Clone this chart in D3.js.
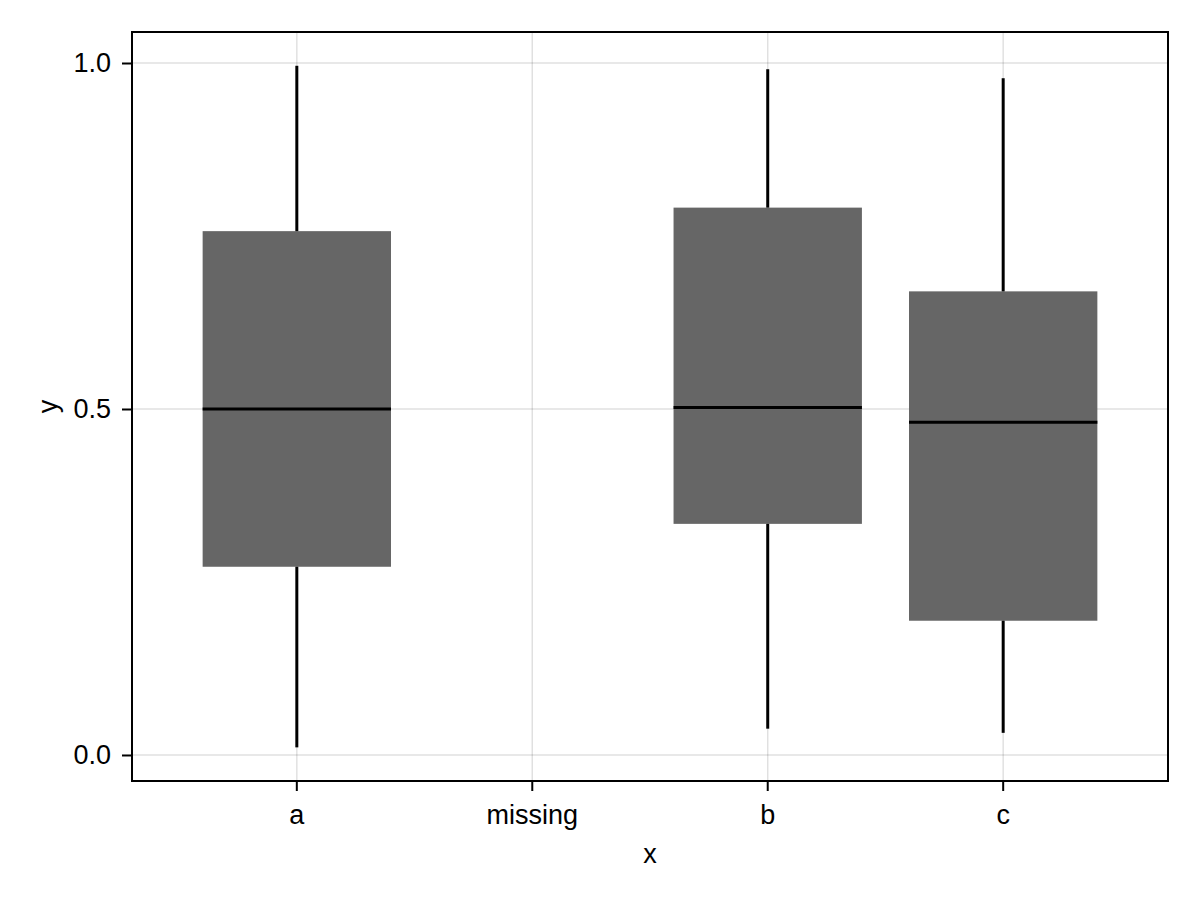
<!DOCTYPE html>
<html>
<head>
<meta charset="utf-8">
<script src="https://cdn.jsdelivr.net/npm/d3@7"></script>
<style>
  body { margin: 0; background: #fff; }
  svg { display: block; }
</style>
</head>
<body>
<svg id="chart"></svg>
<script>
// x axis categories ("missing" has no box)
var categories = ["a", "missing", "b", "c"];
var boxCats = ["a", "b", "c"];
var lows    = [0.011, 0.038, 0.032];
var q1s     = [0.272, 0.334, 0.194];
var medians = [0.500, 0.502, 0.481];
var q3s     = [0.757, 0.791, 0.670];
var highs   = [0.996, 0.991, 0.978];
var yTicks  = [0, 0.5, 1.0];

var width = 1200, height = 900;
var plotLeft = 132, plotRight = 1168, plotTop = 32, plotBottom = 781;
var font = "'Liberation Sans', Arial, sans-serif";
var fontSize = "27px";

var svg = d3.select("#chart")
    .attr("width", width)
    .attr("height", height);

var x = d3.scaleBand()
    .domain(categories)
    .range([plotLeft, plotRight])
    .paddingInner(0.2)
    .paddingOuter(0.3);

var y = d3.scaleLinear()
    .domain([-0.0376, 1.0448])
    .range([plotBottom, plotTop]);

var boxes = boxCats.map(function(c, i) {
    return { cat: c, low: lows[i], q1: q1s[i], med: medians[i], q3: q3s[i], high: highs[i] };
});

function cx(d) { return x(d) + x.bandwidth() / 2; }

// grid
var grid = svg.append("g");
grid.selectAll("line.vg")
    .data(categories)
    .enter().append("line")
    .attr("x1", cx)
    .attr("x2", cx)
    .attr("y1", plotTop)
    .attr("y2", plotBottom)
    .attr("stroke", "rgba(0,0,0,0.12)")
    .attr("stroke-width", 1.5);
grid.selectAll("line.hg")
    .data(yTicks)
    .enter().append("line")
    .attr("x1", plotLeft)
    .attr("x2", plotRight)
    .attr("y1", function(d) { return y(d); })
    .attr("y2", function(d) { return y(d); })
    .attr("stroke", "rgba(0,0,0,0.12)")
    .attr("stroke-width", 1.5);

// boxes
var g = svg.append("g");
g.selectAll("rect")
    .data(boxes)
    .enter().append("rect")
    .attr("x", function(d) { return x(d.cat); })
    .attr("width", x.bandwidth())
    .attr("y", function(d) { return y(d.q3); })
    .attr("height", function(d) { return y(d.q1) - y(d.q3); })
    .attr("fill", "#666666");

// whiskers
g.selectAll("line.wu")
    .data(boxes)
    .enter().append("line")
    .attr("x1", function(d) { return cx(d.cat); })
    .attr("x2", function(d) { return cx(d.cat); })
    .attr("y1", function(d) { return y(d.q3); })
    .attr("y2", function(d) { return y(d.high); })
    .attr("stroke", "#000")
    .attr("stroke-width", 3);
g.selectAll("line.wl")
    .data(boxes)
    .enter().append("line")
    .attr("x1", function(d) { return cx(d.cat); })
    .attr("x2", function(d) { return cx(d.cat); })
    .attr("y1", function(d) { return y(d.q1); })
    .attr("y2", function(d) { return y(d.low); })
    .attr("stroke", "#000")
    .attr("stroke-width", 3);

// medians
g.selectAll("line.med")
    .data(boxes)
    .enter().append("line")
    .attr("x1", function(d) { return x(d.cat); })
    .attr("x2", function(d) { return x(d.cat) + x.bandwidth(); })
    .attr("y1", function(d) { return y(d.med); })
    .attr("y2", function(d) { return y(d.med); })
    .attr("stroke", "#000")
    .attr("stroke-width", 3);

// axes
var xAxis = svg.append("g")
    .attr("transform", "translate(0," + plotBottom + ")")
    .call(d3.axisBottom(x).tickSize(10).tickPadding(14));
var yAxis = svg.append("g")
    .attr("transform", "translate(" + plotLeft + ",0)")
    .call(d3.axisLeft(y).tickValues(yTicks).tickFormat(d3.format(".1f")).tickSize(10).tickPadding(11));

[xAxis, yAxis].forEach(function(a) {
    a.select(".domain").remove();
    a.selectAll(".tick line").attr("stroke", "#000").attr("stroke-width", 2);
    a.selectAll(".tick text")
        .attr("fill", "#000")
        .style("font-family", font)
        .style("font-size", fontSize);
});

// frame
svg.append("rect")
    .attr("x", plotLeft)
    .attr("y", plotTop)
    .attr("width", plotRight - plotLeft)
    .attr("height", plotBottom - plotTop)
    .attr("fill", "none")
    .attr("stroke", "#000")
    .attr("stroke-width", 2);

// axis labels
svg.append("text")
    .attr("x", (plotLeft + plotRight) / 2)
    .attr("y", 863)
    .attr("text-anchor", "middle")
    .style("font-family", font)
    .style("font-size", fontSize)
    .text("x");
svg.append("text")
    .attr("transform", "translate(57," + (plotTop + plotBottom) / 2 + ") rotate(-90)")
    .attr("text-anchor", "middle")
    .style("font-family", font)
    .style("font-size", fontSize)
    .text("y");
</script>
</body>
</html>
